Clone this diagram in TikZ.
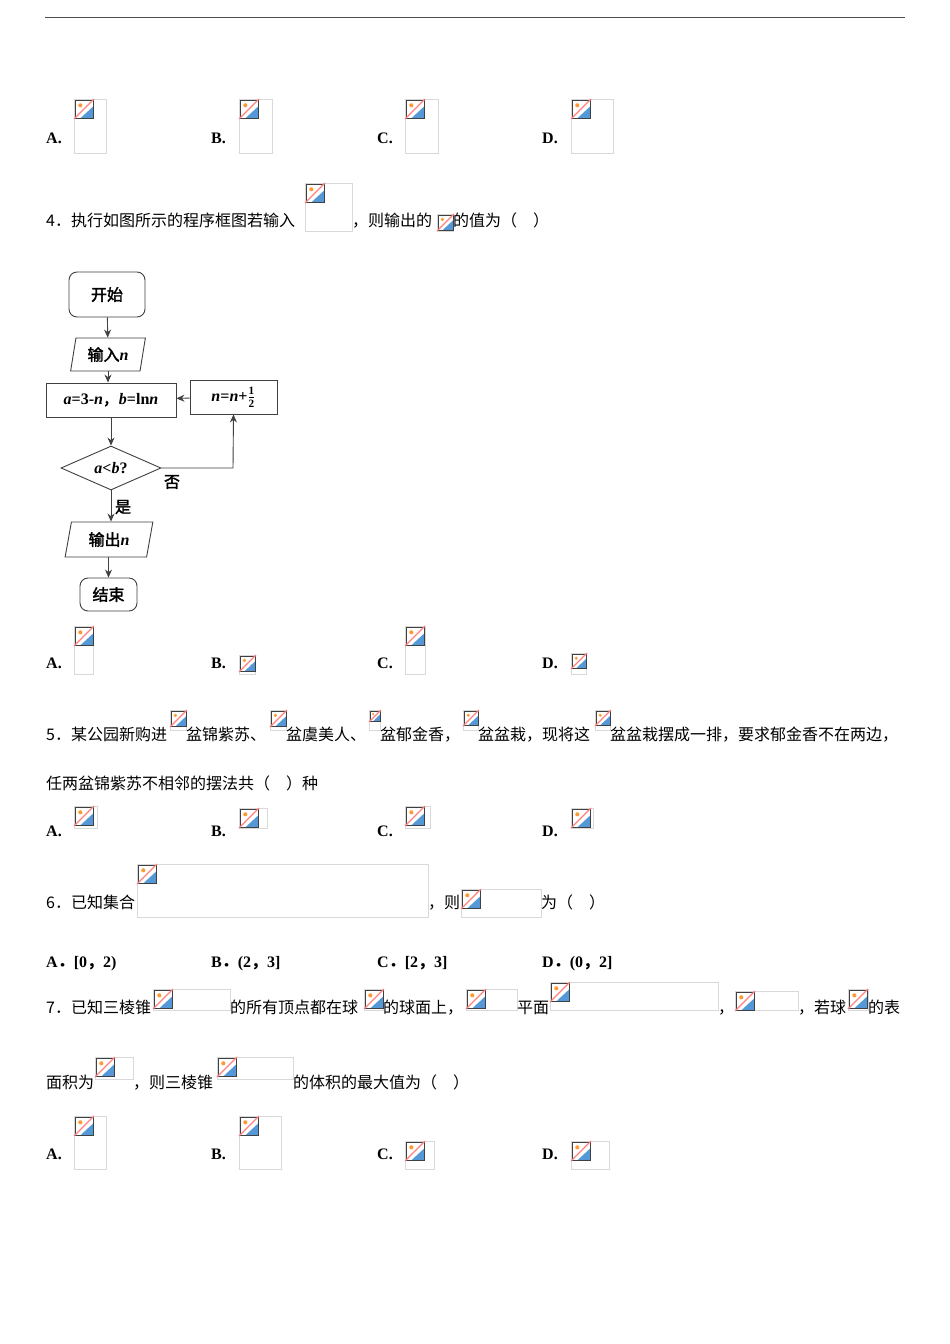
\documentclass[tikz,border=0pt]{standalone}
\usepackage{fontspec}
\setmainfont{Liberation Serif}
\newfontfamily\cjk{Noto Sans CJK SC}
\newfontfamily\cjkb{Noto Sans CJK SC}[FakeBold=2]
\usetikzlibrary{shapes.geometric,arrows.meta}
\newcommand\fvi[1]{{\rmfamily\bfseries\itshape #1}}
\newcommand\fvu[1]{{\rmfamily\bfseries #1}}
\newcommand\bimg[4]{%
  \draw[black!15] (#1,#2) rectangle ++(#3,#4);
  \pgfmathsetmacro\ics{min(min(#3,#4),19)}%
  \fill[white] (#1+1,#2+1) rectangle ++(\ics-1,\ics-1);
  \fill[cyan!60!blue!70] (#1+1+0.3*\ics,#2+\ics) -- (#1+\ics,#2+0.4*\ics) -- (#1+\ics,#2+\ics) -- cycle;
  \fill[orange!80] (#1+1+0.28*\ics,#2+1+0.28*\ics) circle (0.11*\ics);
  \draw[black!75,line width=1pt] (#1+1,#2+1) rectangle ++(\ics-1,\ics-1);
  \draw[red!50,line width=1.3pt] (#1,#2+\ics+1) -- (#1+\ics+1,#2);
}
\tikzset{
  txt/.style={anchor=base west,inner sep=0,font=\fontsize{16}{18}\selectfont\cjk},
  lab/.style={anchor=base west,inner sep=0,font=\fontsize{16}{18}\selectfont\bfseries},
  fc/.style={draw=black!75,line width=0.9pt,inner sep=0,font=\fontsize{16}{18}\selectfont\cjkb},
  arr/.style={draw=black!75,line width=0.9pt,-{Stealth[length=8pt,width=7pt]}}
}
\begin{document}
\begin{tikzpicture}[x=1pt,y=-1pt]
\useasboundingbox (0,0) rectangle (950,1344);
\fill[white] (0,0) rectangle (950,1344);
\draw[black!70,line width=1pt] (45,17) -- (905,17);
% row 1 answers
\node[lab] at (46,143) {A.}; \bimg{74}{99}{32}{54}
\node[lab] at (211,143) {B.}; \bimg{239}{99}{33}{54}
\node[lab] at (377,143) {C.}; \bimg{405}{99}{33}{54}
\node[lab] at (542,143) {D.}; \bimg{571}{99}{42}{54}
% Q4
\node[txt] at (46,226) {4．执行如图所示的程序框图若输入}; \bimg{305}{183}{47}{48}
\node[txt] at (352,226) {，则输出的}; \bimg{437}{214}{16}{17}
\node[txt] at (453,226) {的值为（\hspace{1em}）};
% flowchart
\node[fc,rectangle,rounded corners=8pt,minimum width=76,minimum height=45] (start) at (107,294.5) {开始};
\node[fc,trapezium,trapezium left angle=77,trapezium right angle=103,trapezium stretches=true,minimum width=75,minimum height=33] (in) at (108,354.5) {输入\fvi{n}};
\node[fc,rectangle,minimum width=130,minimum height=34] (proc) at (111,400) {\fvi{a}\fvu{=3-}\fvi{n}，\fvi{b}\fvu{=ln}\fvi{n}};
\node[fc,rectangle,minimum width=87,minimum height=34] (upd) at (233.5,397) {\fvi{n}\fvu{=}\fvi{n}\fvu{+}$\frac{\mathbf 1}{\mathbf 2}$};
\node[fc,diamond,aspect=2.3,minimum width=100,minimum height=44] (dec) at (111,468) {\fvi{a}\fvu{<}\fvi{b}\fvu{?}};
\node[fc,trapezium,trapezium left angle=77,trapezium right angle=103,trapezium stretches=true,minimum width=88,minimum height=35] (out) at (109,539.5) {输出\fvi{n}};
\node[fc,rectangle,rounded corners=8pt,minimum width=57,minimum height=33] (end) at (108.5,594.5) {结束};
\draw[arr] (start) -- (in);
\draw[arr] (in.south) -- (in.south|-proc.north);
\draw[arr] (proc.south-|dec.north) -- (dec);
\coordinate (corner) at (233,468);
\draw[arr] (dec.east) -- (corner) -- (upd.south);
\draw[arr] (upd) -- (proc);
\draw[arr] (dec) -- (dec.south|-out.north);
\draw[arr] (out.south-|end.north) -- (end);
\node[fc,draw=none] (no) at (172,482) {否};
\node[fc,draw=none] (yes) at (123,507) {是};
% Q4 answers
\node[lab] at (46,668) {A.}; \bimg{74}{626}{19}{48}
\node[lab] at (211,668) {B.}; \bimg{239}{655}{16}{19}
\node[lab] at (377,668) {C.}; \bimg{405}{626}{20}{48}
\node[lab] at (542,668) {D.}; \bimg{571}{653}{15}{21}
% Q5
\node[txt] at (46,740) {5．某公园新购进}; \bimg{170}{710}{16}{20}
\node[txt] at (186,740) {盆锦紫苏、}; \bimg{270}{710}{16}{20}
\node[txt] at (286,740) {盆虞美人、}; \bimg{369}{710}{11}{20}
\node[txt] at (380,740) {盆郁金香，}; \bimg{463}{710}{15}{20}
\node[txt] at (478,740) {盆盆栽，现将这}; \bimg{595}{710}{15}{20}
\node[txt] at (610,740) {盆盆栽摆成一排，要求郁金香不在两边，};
\node[txt] at (46,789) {任两盆锦紫苏不相邻的摆法共（\hspace{1em}）种};
\node[lab] at (46,836) {A.}; \bimg{74}{806}{23}{22}
\node[lab] at (211,836) {B.}; \bimg{239}{808}{28}{20}
\node[lab] at (377,836) {C.}; \bimg{405}{806}{25}{22}
\node[lab] at (542,836) {D.}; \bimg{571}{808}{22}{20}
% Q6
\node[txt] at (46,908) {6．已知集合}; \bimg{137}{864}{291}{53}
\node[txt] at (428,908) {，则}; \bimg{461}{889}{80}{28}
\node[txt] at (541,908) {为（\hspace{1em}）};
\node[lab] at (46,967) {A{\cjk ．}[0{\cjk ，}2)};
\node[lab] at (211,967) {B{\cjk ．}(2{\cjk ，}3]};
\node[lab] at (377,967) {C{\cjk ．}[2{\cjk ，}3]};
\node[lab] at (542,967) {D{\cjk ．}(0{\cjk ，}2]};
% Q7
\node[txt] at (46,1013) {7．已知三棱锥}; \bimg{153}{989}{77}{21}
\node[txt] at (230,1013) {的所有顶点都在球}; \bimg{364}{989}{19}{21}
\node[txt] at (383,1013) {的球面上，}; \bimg{466}{989}{51}{21}
\node[txt] at (517,1013) {平面}; \bimg{550}{982}{168}{28}
\node[txt] at (718,1013) {，}; \bimg{735}{991}{63}{19}
\node[txt] at (798,1013) {，若球}; \bimg{848}{989}{20}{21}
\node[txt] at (868,1013) {的表};
\node[txt] at (46,1088) {面积为}; \bimg{95}{1057}{38}{22}
\node[txt] at (133,1088) {，则三棱锥}; \bimg{217}{1057}{76}{22}
\node[txt] at (293,1088) {的体积的最大值为（\hspace{1em}）};
\node[lab] at (46,1159) {A.}; \bimg{74}{1116}{32}{53}
\node[lab] at (211,1159) {B.}; \bimg{239}{1116}{42}{53}
\node[lab] at (377,1159) {C.}; \bimg{405}{1141}{29}{28}
\node[lab] at (542,1159) {D.}; \bimg{571}{1141}{38}{28}
\end{tikzpicture}
\end{document}
